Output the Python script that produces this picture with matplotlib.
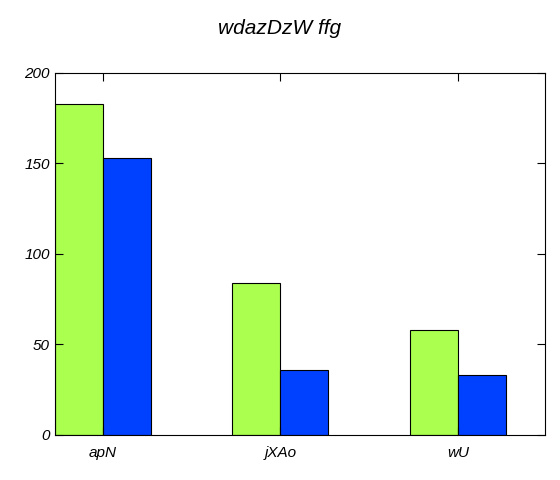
import numpy as np
import matplotlib.pyplot as plt

categories = ["apN", "jXAo", "wU"]
green_vals = [183, 84, 58]
blue_vals = [153, 36, 33]

plt.rcParams['font.family'] = ['Liberation Sans', 'DejaVu Sans']
plt.rcParams['font.style'] = 'italic'

fig = plt.figure(figsize=(5.6, 4.8), dpi=100)
ax = fig.add_axes([0.098, 0.094, 0.875, 0.754])

x = np.arange(len(categories))
w = 0.27
ax.bar(x - w / 2, green_vals, width=w, color="#aaff4f", edgecolor="black", linewidth=0.8)
ax.bar(x + w / 2, blue_vals, width=w, color="#0040ff", edgecolor="black", linewidth=0.8)

ax.set_xlim(-0.27, 2.49)
ax.set_ylim(0, 200)
ax.set_yticks([0, 50, 100, 150, 200])
ax.set_xticks(x)
ax.set_xticklabels(categories)
ax.tick_params(direction="in", top=True, right=True, length=6, labelsize=11)
ax.tick_params(axis="x", pad=8)
fig.suptitle("wdazDzW ffg", fontsize=15, y=0.96)

plt.savefig("out.png")
